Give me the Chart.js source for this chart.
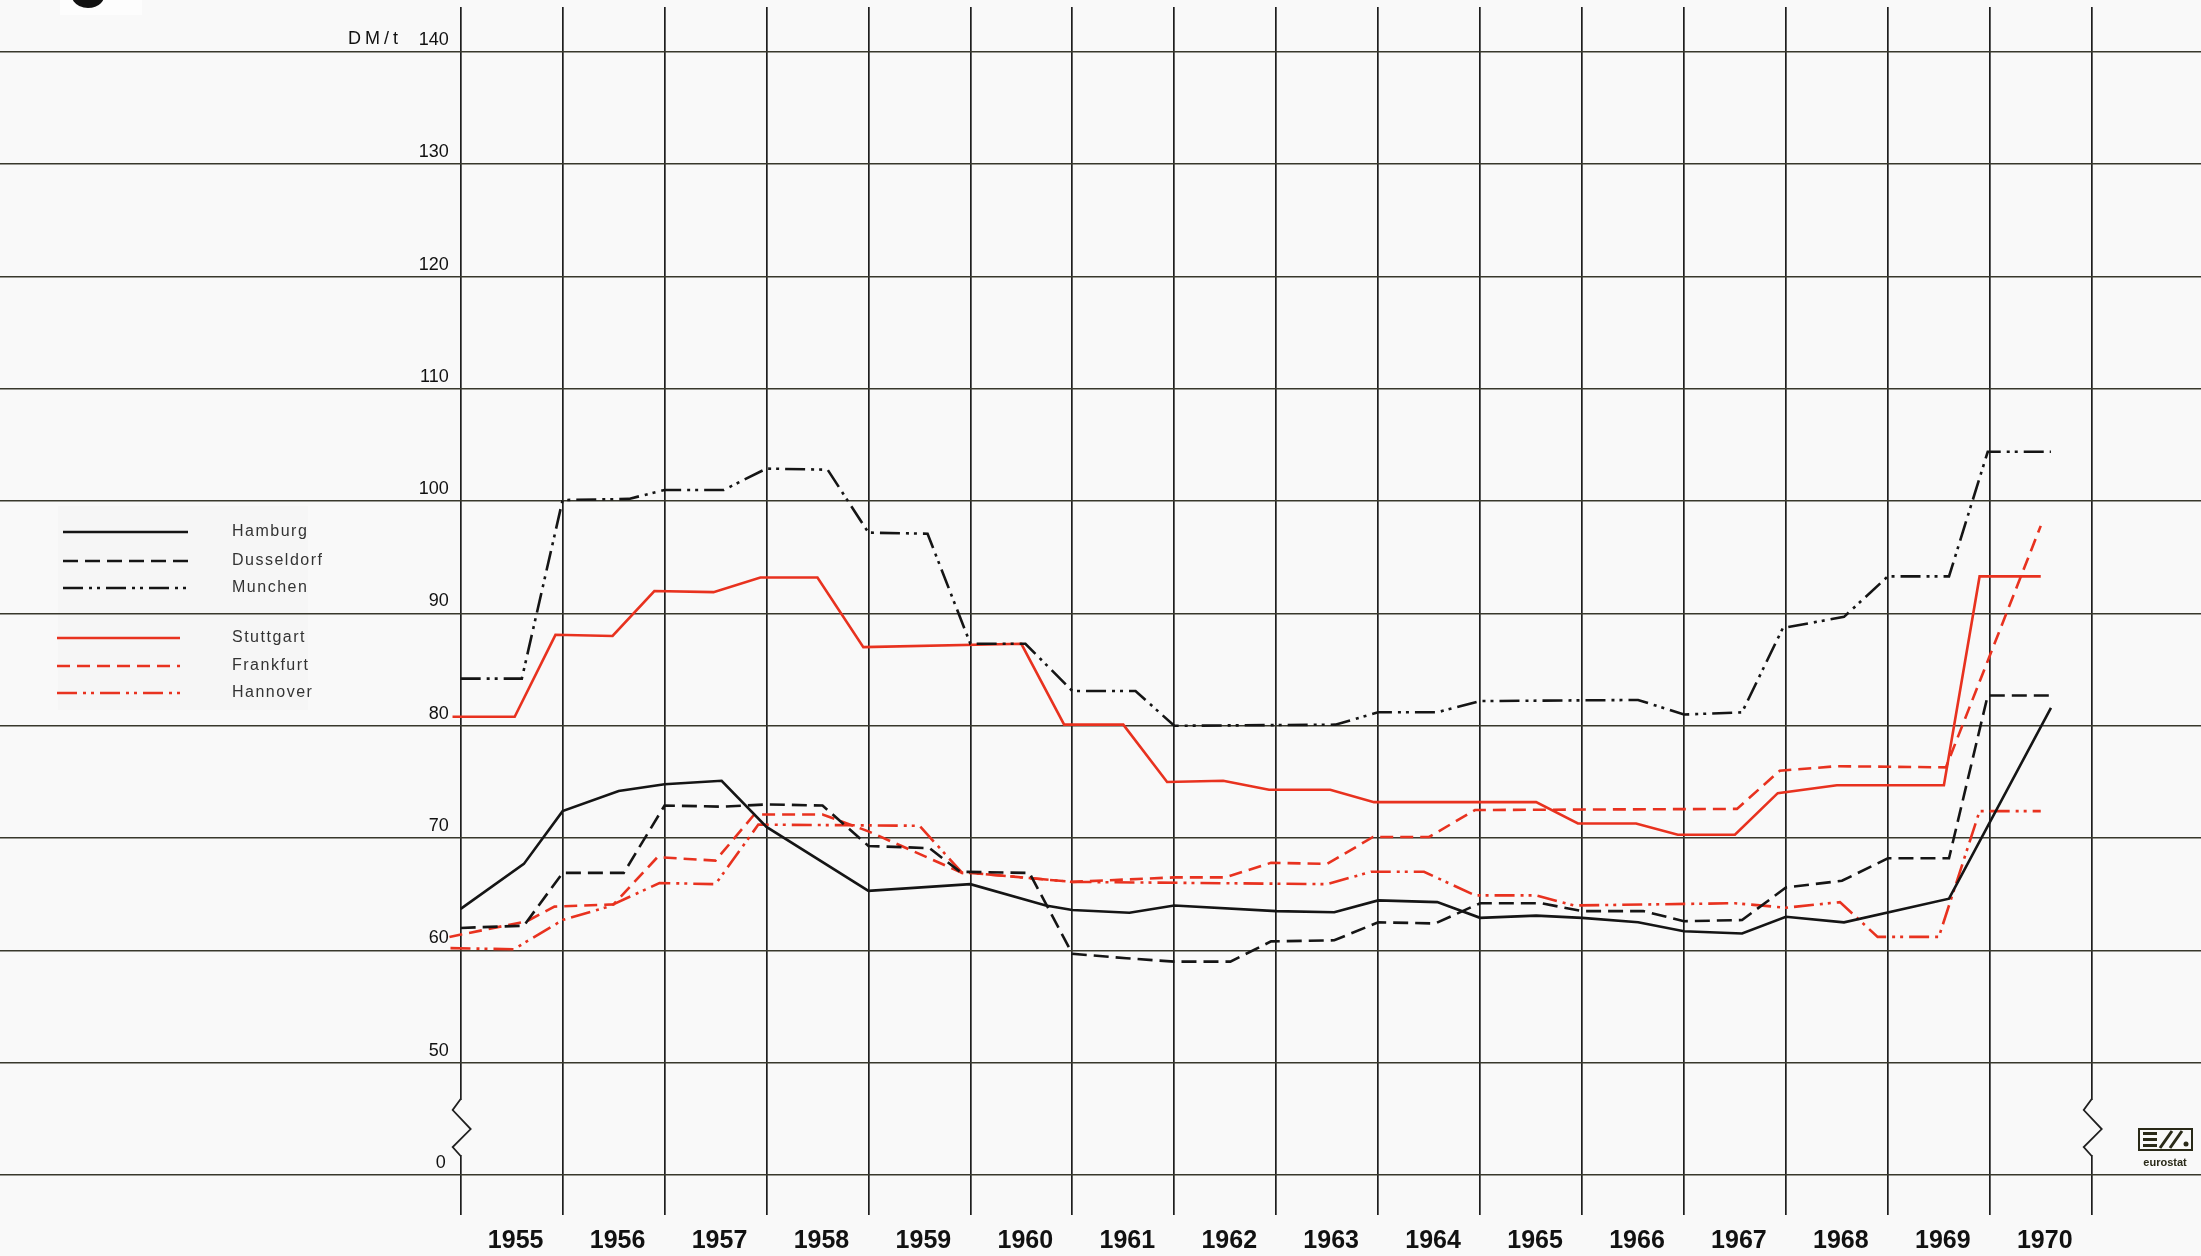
<!DOCTYPE html>
<html>
<head>
<meta charset="utf-8">
<script src="https://cdn.jsdelivr.net/npm/chart.js@4.4.1/dist/chart.umd.min.js"></script>
<style>
html,body{margin:0;padding:0;background:#f9f9f9;}
canvas{display:block;}
</style>
</head>
<body>
<canvas id="c" width="2201" height="1256"></canvas>
<script>
// ---- data (DM/t), x = year position ----
const yearLabels = ['1955','1956','1957','1958','1959','1960','1961','1962','1963','1964','1965','1966','1967','1968','1969','1970'];
const yTickValues = [40,50,60,70,80,90,100,110,120,130,140];
const yTickLabels = ['0','50','60','70','80','90','100','110','120','130','140'];

const hamburgX = [1955.0,1955.62,1956.0,1956.55,1957.0,1957.56,1958.0,1959.0,1960.0,1960.74,1961.0,1961.56,1962.0,1963.0,1963.57,1964.0,1964.58,1965.0,1965.55,1966.0,1966.55,1967.0,1967.57,1968.0,1968.57,1969.6,1970.6];
const hamburgY = [63.7,67.7,72.4,74.2,74.8,75.1,71.0,65.3,65.9,64.0,63.6,63.35,64.0,63.5,63.4,64.45,64.3,62.9,63.1,62.9,62.5,61.7,61.5,63.0,62.5,64.6,81.6];

const dusseldorfX = [1955.0,1955.62,1956.0,1956.6,1957.0,1957.56,1958.0,1958.55,1959.0,1959.6,1959.9,1960.58,1961.0,1961.53,1962.0,1962.55,1962.95,1963.57,1964.0,1964.56,1965.0,1965.6,1966.0,1966.6,1967.0,1967.57,1968.0,1968.55,1969.0,1969.6,1969.98,1970.6];
const dusseldorfY = [62.0,62.2,66.9,66.9,72.9,72.8,73.0,72.9,69.3,69.1,67.0,66.9,59.7,59.3,59.0,59.0,60.8,60.9,62.5,62.4,64.2,64.2,63.5,63.5,62.6,62.7,65.6,66.2,68.2,68.2,82.7,82.7];

const munchenX = [1955.0,1955.6,1956.0,1956.65,1957.0,1957.58,1958.0,1958.6,1959.0,1959.58,1960.0,1960.54,1961.0,1961.62,1962.0,1963.58,1964.0,1964.58,1965.0,1966.55,1967.0,1967.57,1967.97,1968.57,1969.0,1969.6,1969.98,1970.6];
const munchenY = [84.2,84.2,100.1,100.2,101.0,101.0,102.9,102.8,97.2,97.1,87.3,87.3,83.1,83.1,80.0,80.1,81.2,81.2,82.2,82.3,81.0,81.2,88.7,89.7,93.3,93.3,104.4,104.4];

const stuttgartX = [1954.92,1955.53,1955.93,1956.49,1956.9,1957.48,1957.94,1958.5,1958.95,1960.5,1960.92,1961.5,1961.93,1962.48,1962.93,1963.53,1963.96,1965.55,1965.96,1966.53,1966.94,1967.5,1967.92,1968.5,1969.55,1969.9,1970.5];
const stuttgartY = [80.8,80.8,88.1,88.0,92.0,91.9,93.2,93.2,87.0,87.3,80.1,80.1,75.0,75.1,74.3,74.3,73.2,73.2,71.3,71.3,70.3,70.3,74.0,74.7,74.7,93.3,93.3];

const frankfurtX = [1954.89,1955.65,1955.92,1956.5,1956.93,1957.5,1957.88,1958.55,1959.0,1959.92,1960.0,1961.0,1962.0,1962.5,1962.95,1963.5,1963.95,1964.5,1964.95,1967.52,1967.94,1968.5,1969.57,1970.5];
const frankfurtY = [61.2,62.6,63.9,64.1,68.3,68.0,72.1,72.1,70.6,66.9,66.9,66.1,66.5,66.5,67.8,67.7,70.1,70.1,72.5,72.6,76.0,76.4,76.3,97.8];

const hannoverX = [1954.9,1955.52,1956.0,1956.45,1956.95,1957.5,1957.92,1959.5,1959.92,1960.0,1961.0,1963.5,1963.93,1964.45,1964.95,1965.55,1965.92,1967.5,1968.0,1968.53,1968.9,1969.5,1969.9,1970.5];
const hannoverY = [60.2,60.1,62.7,63.9,66.0,65.9,71.2,71.1,66.9,66.9,66.1,65.9,67.0,67.0,64.9,64.9,64.0,64.2,63.8,64.3,61.2,61.2,72.4,72.4];

const seriesNames = ['Hamburg','Dusseldorf','Munchen','Stuttgart','Frankfurt','Hannover'];

// ---- styles ----
const BLACK = '#151515';
const RED = '#e8321f';
const styles = [
  {color: BLACK, dash: []},
  {color: BLACK, dash: [15,7]},
  {color: BLACK, dash: [20,6,3,5,3,6]},
  {color: RED, dash: []},
  {color: RED, dash: [13,7]},
  {color: RED, dash: [20,6,3,5,3,6]}
];
const xs = [hamburgX, dusseldorfX, munchenX, stuttgartX, frankfurtX, hannoverX];
const ys = [hamburgY, dusseldorfY, munchenY, stuttgartY, frankfurtY, hannoverY];

const datasets = seriesNames.map((name, i) => ({
  label: name,
  data: xs[i].map((x, j) => ({x: x, y: ys[i][j]})),
  borderColor: styles[i].color,
  borderDash: styles[i].dash,
  borderWidth: 2.6,
  pointRadius: 0,
  tension: 0,
  fill: false
}));

const FIRST = 1955, LAST = 1971;
const xTicks = [];
for (let k = 0; k <= yearLabels.length; k++) {
  xTicks.push(FIRST + k);
  if (k < yearLabels.length) xTicks.push(FIRST + k + 0.5);
}

const decor = {
  id: 'decor',
  beforeDraw(chart) {
    const ctx = chart.ctx;
    ctx.save();
    ctx.fillStyle = '#f9f9f9';
    ctx.fillRect(0, 0, chart.width, chart.height);
    ctx.fillStyle = '#fdfdfd';
    ctx.fillRect(60, 0, 82, 15);
    ctx.fillStyle = '#f6f6f6';
    ctx.fillRect(58, 506, 250, 204);
    ctx.restore();
  },
  afterDraw(chart) {
    const ctx = chart.ctx;
    const x = chart.scales.x, y = chart.scales.y;
    const axX = x.getPixelForValue(FIRST);
    ctx.save();
    // y tick labels
    ctx.fillStyle = '#111';
    ctx.font = '18px "Liberation Sans", Arial, sans-serif';
    ctx.textAlign = 'right';
    ctx.textBaseline = 'middle';
    yTickValues.forEach((v, i) => {
      const off = (i === 0) ? 15 : 12;
      ctx.fillText(yTickLabels[i], axX - off, y.getPixelForValue(v) - 12);
    });
    // unit
    ctx.textAlign = 'left';
    ctx.letterSpacing = '4px';
    ctx.fillText('DM/t', 348, y.getPixelForValue(140) - 13);
    ctx.letterSpacing = '0px';

    // axis breaks
    const y0 = y.getPixelForValue(40);
    [FIRST, LAST].forEach(v => {
      const px = x.getPixelForValue(v);
      ctx.fillStyle = '#f9f9f9';
      ctx.fillRect(px - 4, y0 - 75, 8, 55);
      ctx.strokeStyle = '#202020';
      ctx.lineWidth = 1.8;
      ctx.setLineDash([]);
      ctx.beginPath();
      ctx.moveTo(px, y0 - 76);
      ctx.lineTo(px - 8, y0 - 65);
      ctx.lineTo(px + 10, y0 - 46);
      ctx.lineTo(px - 8, y0 - 28);
      ctx.lineTo(px, y0 - 19);
      ctx.stroke();
    });

    // legend
    const rows = [
      {i: 0, y: 532, x1: 63, x2: 188},
      {i: 1, y: 561, x1: 63, x2: 188},
      {i: 2, y: 588, x1: 63, x2: 188},
      {i: 3, y: 638, x1: 57, x2: 180},
      {i: 4, y: 666, x1: 57, x2: 180},
      {i: 5, y: 693, x1: 57, x2: 180}
    ];
    ctx.font = '16px "Liberation Sans", Arial, sans-serif';
    ctx.textBaseline = 'middle';
    ctx.textAlign = 'left';
    rows.forEach(r => {
      ctx.strokeStyle = styles[r.i].color;
      ctx.lineWidth = 2.6;
      ctx.setLineDash(styles[r.i].dash);
      ctx.beginPath();
      ctx.moveTo(r.x1, r.y);
      ctx.lineTo(r.x2, r.y);
      ctx.stroke();
      ctx.setLineDash([]);
      ctx.fillStyle = '#333';
      ctx.letterSpacing = '1.5px';
      ctx.fillText(seriesNames[r.i], 232, r.y);
      ctx.letterSpacing = '0px';
    });

    // eurostat mark
    ctx.strokeStyle = '#2a2a18';
    ctx.fillStyle = '#2a2a18';
    ctx.lineWidth = 2;
    ctx.strokeRect(2139, 1129, 53, 21);
    ctx.fillRect(2143, 1132, 14, 3);
    ctx.fillRect(2143, 1138, 14, 3);
    ctx.fillRect(2143, 1144, 14, 3);
    ctx.lineWidth = 3;
    ctx.beginPath();
    ctx.moveTo(2160, 1148); ctx.lineTo(2172, 1131);
    ctx.moveTo(2170, 1148); ctx.lineTo(2182, 1131);
    ctx.stroke();
    ctx.beginPath();
    ctx.arc(2186, 1144, 2.5, 0, Math.PI * 2);
    ctx.fill();
    ctx.font = 'bold 11px "Liberation Sans", Arial, sans-serif';
    ctx.textAlign = 'center';
    ctx.fillText('eurostat', 2165, 1163);

    // partial heading glyph at the top edge
    ctx.fillStyle = '#111';
    ctx.font = 'bold 76px "Liberation Sans", Arial, sans-serif';
    ctx.textAlign = 'left';
    ctx.textBaseline = 'alphabetic';
    ctx.fillText('6', 66, 7);
    ctx.restore();
  }
};

new Chart(document.getElementById('c'), {
  type: 'line',
  data: {datasets: datasets},
  options: {
    responsive: false,
    animation: false,
    devicePixelRatio: 1,
    layout: {padding: {top: 7, bottom: 3, left: 0, right: 0}},
    plugins: {legend: {display: false}, tooltip: {enabled: false}},
    scales: {
      x: {
        type: 'linear',
        position: 'bottom',
        min: 1950.481,
        max: 1972.072,
        afterBuildTicks: (s) => { s.ticks = xTicks.map(v => ({value: v})); },
        afterFit: (s) => { s.height = 38; },
        border: {display: false},
        grid: {
          drawTicks: false,
          lineWidth: 1.7,
          color: (c) => (c.tick && Number.isInteger(c.tick.value)) ? '#1e1e1e' : 'rgba(0,0,0,0)'
        },
        ticks: {
          autoSkip: false,
          maxRotation: 0,
          minRotation: 0,
          padding: 11,
          labelOffset: 4,
          color: '#111',
          font: {family: '"Liberation Sans Narrow", "Liberation Sans", Arial, sans-serif', size: 25, weight: 'bold'},
          callback: (v) => Number.isInteger(v) ? '' : yearLabels[Math.floor(v) - FIRST]
        }
      },
      y: {
        type: 'linear',
        position: 'left',
        min: 36.44,
        max: 144.0,
        afterBuildTicks: (s) => { s.ticks = yTickValues.map(v => ({value: v})); },
        afterFit: (s) => { s.width = 0; },
        border: {display: false},
        grid: {drawTicks: false, lineWidth: 1.5, color: '#38382c'},
        ticks: {display: false}
      }
    }
  },
  plugins: [decor]
});
</script>
</body>
</html>
